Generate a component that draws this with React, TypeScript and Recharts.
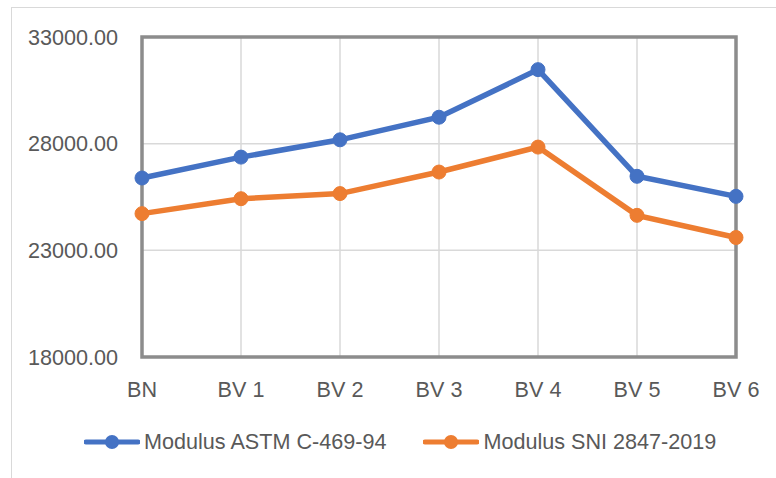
import React from "react";
import { LineChart, Line, XAxis, YAxis, CartesianGrid, Legend, ReferenceArea } from "recharts";

const categories = ["BN", "BV 1", "BV 2", "BV 3", "BV 4", "BV 5", "BV 6"];
const astmValues = [26390, 27370, 28180, 29240, 31470, 26470, 25530];
const sniValues = [24720, 25420, 25660, 26670, 27840, 24640, 23600];
const yTicks = [18000, 23000, 28000, 33000];
const seriesNames = ["Modulus ASTM C-469-94", "Modulus SNI 2847-2019"];
const seriesColors = ["#4472C4", "#ED7D31"];

const data = categories.map((c, i) => ({ name: c, astm: astmValues[i], sni: sniValues[i] }));

const FONT = "'Liberation Sans', Arial, sans-serif";
const TEXT = "#595959";
const FS = 21.6;

const LegendContent = () => (
  <div style={{ display: "flex", alignItems: "center", marginLeft: 84, fontFamily: FONT, fontSize: FS, color: TEXT, height: 28 }}>
    {seriesNames.map((n, i) => (
      <div key={n} style={{ display: "flex", alignItems: "center", marginRight: 37 }}>
        <svg width={56} height={16} style={{ marginRight: 4 }}>
          <line x1={2} y1={8} x2={54} y2={8} stroke={seriesColors[i]} strokeWidth={5} strokeLinecap="round" />
          <circle cx={28} cy={8} r={7} fill={seriesColors[i]} />
        </svg>
        <span style={{ whiteSpace: "nowrap" }}>{n}</span>
      </div>
    ))}
  </div>
);

export default function App() {
  return (
    <div style={{ position: "absolute", left: 0, top: 0, width: 776, height: 478, overflow: "hidden", background: "#fff" }}>
      <div style={{ position: "absolute", left: 11, top: 7, width: 900, height: 600, border: "1px solid #d9d9d9" }} />
      <div style={{ position: "absolute", left: 0, top: 0 }}>
        <LineChart width={776} height={478} data={data} margin={{ top: 37, right: 40, left: 0, bottom: 91 }}>
          <CartesianGrid stroke="#d9d9d9" strokeWidth={1.5} />
          <XAxis
            dataKey="name"
            axisLine={false}
            tickLine={false}
            tickSize={0}
            tickMargin={25}
            height={30}
            interval={0}
            tick={{ fill: TEXT, fontSize: FS, fontFamily: FONT }}
          />
          <YAxis
            domain={[18000, 33000]}
            ticks={yTicks}
            width={142}
            axisLine={false}
            tickLine={false}
            tickSize={0}
            tickMargin={24}
            tickFormatter={(v: number) => v.toFixed(2)}
            tick={{ fill: TEXT, fontSize: FS, fontFamily: FONT }}
          />
          <ReferenceArea x1="BN" x2="BV 6" y1={18000} y2={33000} fill="none" stroke="#8c8c8c" strokeWidth={3.5} ifOverflow="visible" />
          <Line type="linear" dataKey="astm" name={seriesNames[0]} stroke={seriesColors[0]} strokeWidth={5.5} dot={{ r: 7, fill: seriesColors[0], stroke: seriesColors[0], strokeWidth: 1 }} isAnimationActive={false} />
          <Line type="linear" dataKey="sni" name={seriesNames[1]} stroke={seriesColors[1]} strokeWidth={5.5} dot={{ r: 7, fill: seriesColors[1], stroke: seriesColors[1], strokeWidth: 1 }} isAnimationActive={false} />
          <Legend layout="horizontal" verticalAlign="middle" align="center" content={<LegendContent />} wrapperStyle={{ top: 428, left: 0, width: 776, height: 28 }} />
        </LineChart>
      </div>
    </div>
  );
}
